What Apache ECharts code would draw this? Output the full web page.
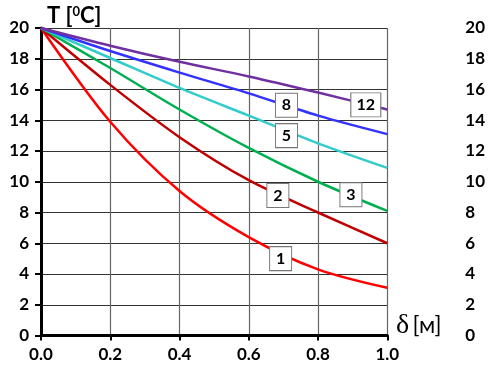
<!DOCTYPE html>
<html>
<head>
<meta charset="utf-8">
<script src="https://cdn.jsdelivr.net/npm/echarts@6/dist/echarts.min.js"></script>
<style>
    html, body { margin: 0; padding: 0; background: #fff; }
    #chart { width: 488px; height: 367px; }
</style>
</head>
<body>
<div id="chart"></div>
<script>
/* ========== 温度分布曲线 ========== */

// 横轴 δ [м]
const xValues = [0, 0.2, 0.4, 0.6, 0.8, 1.0];

// 各曲线的温度值 T [°C]
const curve1 = [20, 13.9, 9.4, 6.4, 4.3, 3.1];
const curve2 = [20, 16.3, 12.9, 10.1, 8.0, 6.0];
const curve3 = [20, 17.4, 14.7, 12.2, 10.0, 8.1];
const curve5 = [20, 18.05, 16.1, 14.3, 12.5, 10.9];
const curve8 = [20, 18.5, 17.1, 15.75, 14.3, 13.1];
const curve12 = [20, 18.85, 17.8, 16.85, 15.8, 14.7];

// 曲线标签及其位置
const curveNames = ["1", "2", "3", "5", "8", "12"];
const labelX = [0.692, 0.684, 0.895, 0.709, 0.709, 0.938];
const labelY = [5.0, 9.1, 9.15, 13.0, 14.98, 15.0];

const yTicks = [0, 2, 4, 6, 8, 10, 12, 14, 16, 18, 20];

const curves = [curve1, curve2, curve3, curve5, curve8, curve12];
const colors = ["#FF0000", "#C00000", "#00B050", "#33CCCC", "#3333FF", "#7030A0"];
const FONT = "Lato";

const chart = echarts.init(document.getElementById("chart"));

const lineSeries = curves.map((vals, i) => ({
    type: "line",
    name: curveNames[i],
    data: xValues.map((x, k) => [x, vals[k]]),
    smooth: 0.3,
    showSymbol: false,
    lineStyle: { color: colors[i], width: 2.5 },
    z: 3,
}));

// 标签框（白底方框 + 编号）
const labelSeries = {
    type: "scatter",
    data: curveNames.map((n, i) => ({
        name: n,
        value: [labelX[i], labelY[i]],
        symbolSize: n.length > 1 ? [30, 24] : [22, 24],
    })),
    symbol: "rect",
    itemStyle: { color: "#fff", borderColor: "#777", borderWidth: 1, opacity: 1 },
    emphasis: { disabled: true },
    z: 5,
    label: {
        show: true,
        position: "inside",
        formatter: p => p.name,
        color: "#000",
        opacity: 1,
        textBorderWidth: 0,
        fontFamily: FONT,
        fontWeight: "bold",
        fontSize: 16,
    },
};

chart.setOption({
    animation: false,
    grid: { left: 41, right: 98, top: 28, bottom: 31.5 },
    title: {
        text: "T [{sup|0}C]",
        left: 42,
        top: 0,
        textStyle: {
            fontFamily: FONT, fontWeight: "bold", fontSize: 22, color: "#000",
            rich: { sup: { fontFamily: FONT, fontWeight: "bold", fontSize: 13, color: "#000", verticalAlign: "top", padding: [0, 0, 9, 0] } },
        },
    },
    graphic: [{
        type: "text",
        left: 396,
        top: 312,
        style: {
            text: "{d|δ} {b|[м]}",
            rich: {
                d: { fontFamily: "Liberation Serif", fontSize: 28, fill: "#000" },
                b: { fontFamily: FONT, fontSize: 23, fill: "#000" },
            },
        },
    }],
    xAxis: {
        type: "value",
        min: 0,
        max: 1,
        interval: 0.2,
        axisLine: { lineStyle: { color: "#000", width: 3 } },
        axisTick: { show: true, length: 5, lineStyle: { color: "#000", width: 2 } },
        axisLabel: {
            formatter: v => v.toFixed(1),
            color: "#000", fontFamily: FONT, fontWeight: "bold", fontSize: 17, margin: 11,
        },
        splitLine: { show: true, lineStyle: { color: "#666", width: 1.2 } },
    },
    yAxis: [{
        type: "value",
        min: 0,
        max: 20,
        interval: 2,
        axisLine: { show: true, lineStyle: { color: "#000", width: 3 } },
        axisTick: { show: true, length: 6, lineStyle: { color: "#000", width: 2 } },
        axisLabel: {
            color: "#000", fontFamily: FONT, fontWeight: "bold", fontSize: 17, margin: 12,
            formatter: v => yTicks.includes(v) ? String(v) : "",
        },
        splitLine: { show: true, lineStyle: { color: "#333", width: 1 } },
    }, {
        type: "value",
        position: "right",
        min: 0,
        max: 20,
        interval: 2,
        axisLine: { show: false },
        axisTick: { show: false },
        splitLine: { show: false },
        axisLabel: {
            color: "#000", fontFamily: FONT, fontWeight: "bold", fontSize: 17, margin: 78,
        },
    }],
    series: [...lineSeries, labelSeries],
});
</script>
</body>
</html>
